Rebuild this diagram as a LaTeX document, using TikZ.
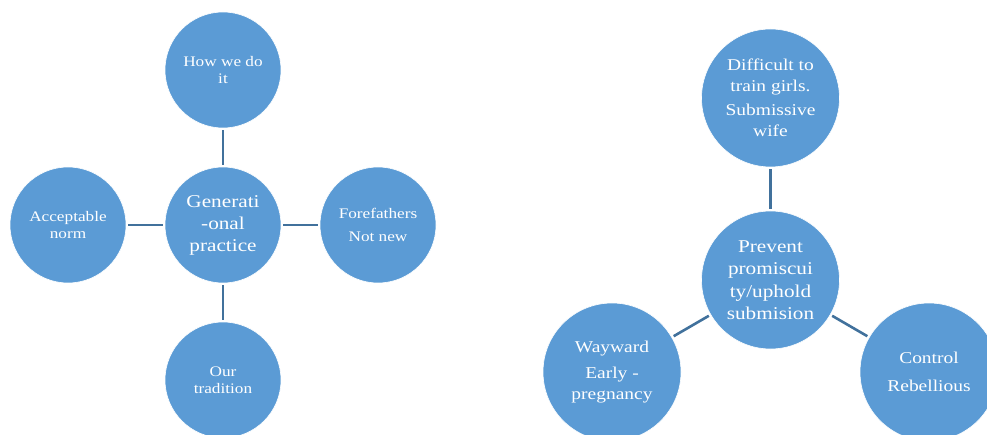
\documentclass[tikz,border=0pt]{standalone}
\usepackage{fontspec}
\setmainfont[FakeStretch=1.18]{Liberation Serif}
\definecolor{fillblue}{HTML}{5B9BD5}
\definecolor{lineblue}{HTML}{41719C}
\tikzset{
  bubble/.style={circle, fill=fillblue, draw=white, line width=0.6pt, inner sep=0pt, text=white, align=center},
  smallL/.style={bubble, minimum size=116pt, font=\fontsize{14.6}{17}\selectfont},
  bigL/.style={bubble, minimum size=116pt, font=\fontsize{18}{22}\selectfont},
  smallR/.style={bubble, minimum size=138pt, font=\fontsize{16.5}{20.5}\selectfont},
  bigR/.style={bubble, minimum size=138pt, font=\fontsize{18}{22.5}\selectfont},
  conn/.style={draw=lineblue, line width=2.6pt, shorten >=2pt, shorten <=2pt}
}
\begin{document}
\begin{tikzpicture}[x=1pt, y=-1pt]
\useasboundingbox (0,0) rectangle (987,435);
% left diagram
\node[bigL] (gen) at (223,225) {Generati\\-onal\\practice};
\node[smallL] (how) at (223,70) {How we do\\it};
\node[smallL] (acc) at (68,225) {Acceptable\\norm};
\node[smallL] (fore) at (378,225) {Forefathers\\[6pt]Not new};
\node[smallL] (our) at (223,380) {Our\\tradition};
\draw[conn] (gen) -- (how);
\draw[conn] (gen) -- (acc);
\draw[conn] (gen) -- (fore);
\draw[conn] (gen) -- (our);
% right diagram
\node[bigR] (prev) at (770.5,280) {Prevent\\promiscui\\ty/uphold\\submision};
\node[smallR] (diff) at (770.5,98) {Difficult to\\train girls.\\[4pt]Submissive\\wife};
\node[smallR] (way) at (612,372) {Wayward\\[6pt]Early -\\pregnancy};
\node[smallR] (ctrl) at (929,372) {Control\\[7pt]Rebellious};
\draw[conn] (prev) -- (diff);
\draw[conn] (prev) -- (way);
\draw[conn] (prev) -- (ctrl);
\end{tikzpicture}
\end{document}
